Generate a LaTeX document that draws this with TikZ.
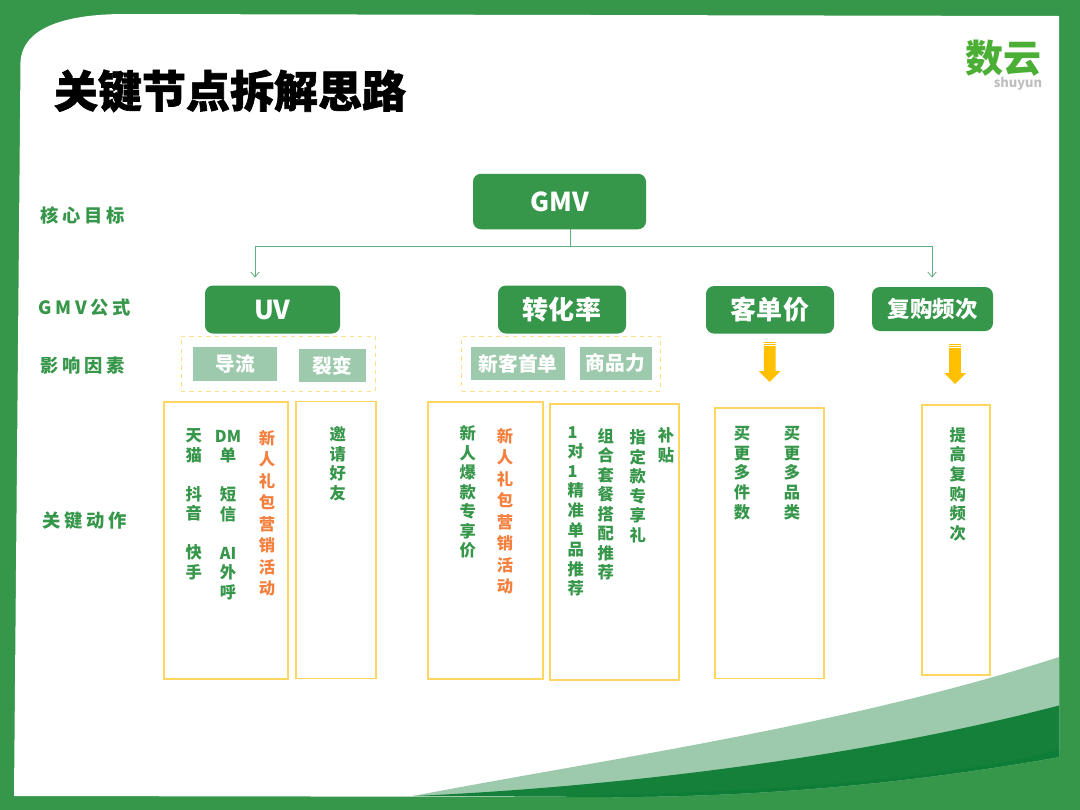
\documentclass[tikz,border=0pt]{standalone}
\usepackage{fontspec}
\setmainfont{Noto Sans CJK SC}
\newfontfamily\spacedfont[LetterSpace=20]{Noto Sans CJK SC}
\newfontfamily\titlefont[BoldFeatures={FakeBold=1.5}]{Noto Sans CJK SC}
\usetikzlibrary{positioning,arrows.meta}
\definecolor{mainGreen}{HTML}{36964A}
\definecolor{paleGreen}{HTML}{9DCAAC}
\definecolor{deepGreen}{HTML}{14803A}
\definecolor{darkGreen}{HTML}{0E7D38}
\definecolor{logoGreen}{HTML}{4CAF35}
\definecolor{lineGreen}{HTML}{5FB07E}
\definecolor{boxYellow}{HTML}{FFD75F}
\definecolor{dashYellow}{HTML}{FFE08A}
\definecolor{arrowYellow}{HTML}{FFC000}
\definecolor{actOrange}{HTML}{F4803D}

\begin{document}
\begin{tikzpicture}[
      x=0.025cm,y=-0.025cm,
      every node/.style={inner sep=0pt,outer sep=0pt},
      sized/.style 2 args={minimum width=#1*0.025cm,minimum height=#2*0.025cm},
      kpi/.style={fill=mainGreen,rounded corners=0.2cm,text=white,font=\bfseries\fontsize{18.5}{22}\selectfont},
      factor/.style={fill=paleGreen,text=white,font=\bfseries\fontsize{14}{17}\selectfont},
      group/.style={draw=dashYellow,dashed,line width=0.7pt},
      action/.style={draw=boxYellow,line width=1pt},
      rowlbl/.style={text=mainGreen,font=\spacedfont\bfseries\fontsize{13}{15}\selectfont},
      vtxt/.style={anchor=north,align=center,text=mainGreen,font=\bfseries\fontsize{11.6}{13.9}\selectfont},
      otxt/.style={anchor=north,align=center,text=actOrange,font=\bfseries\fontsize{11.6}{15.3}\selectfont},
      conn/.style={draw=lineGreen,line width=0.55pt},
      down/.style={fill=arrowYellow,draw=none},
    ]
    \useasboundingbox (0,0) rectangle (1080,810);

    % Frame and waves
    \fill[mainGreen] (0,0) rectangle (1080,810);
    \fill[white] (20.5,62) .. controls (22,30) and (60,14) .. (125,14) -- (1059,16) -- (1059,757)
      .. controls (900,785) and (760,796) .. (620,797) -- (14,796) -- cycle;
    \fill[paleGreen] (413,796) .. controls (600,760) and (850,725) .. (1059,657) -- (1059,757)
      .. controls (900,785) and (760,796) .. (620,797) -- cycle;
    \fill[deepGreen] (413,796) .. controls (600,788) and (850,760) .. (1059,705.5) -- (1059,757)
      .. controls (900,785) and (760,796) .. (620,797) -- cycle;
    \fill[darkGreen] (560,797) .. controls (780,790) and (930,782) .. (1059,750) -- (1059,757)
      .. controls (900,785) and (760,796) .. (620,797) -- cycle;

    % Title and logo
    \node[font=\titlefont\bfseries\fontsize{31.3}{36}\selectfont] (title) at (230,91) {关键节点拆解思路};
    \node[text=logoGreen,text height=20pt,text depth=0pt,font=\bfseries\fontsize{27}{30}\selectfont] (logo) at (1003.5,58) {数云};
    \node[text=black!25,text height=5pt,text depth=1pt,font=\bfseries\fontsize{9.2}{11}\selectfont] (logosub) at (1018,85) {shuyun};

    % Row labels
    \node[rowlbl] (rowgoal) at (83,215) {核心目标};
    \node[rowlbl] (rowformula) at (84.5,307.5) {GMV公式};
    \node[rowlbl] (rowfactor) at (83,365.5) {影响因素};
    \node[rowlbl] (rowaction) at (85,520.5) {关键动作};

    % Goal and formula
    \node[kpi,sized={173}{55.5}] (gmv) at (559.5,201.5) {GMV};
    \node[kpi,sized={135}{48}] (uv) at (272.5,309.5) {UV};
    \node[kpi,sized={128}{48}] (rate) at (562,309.5) {转化率};
    \node[kpi,sized={128}{47.5}] (price) at (770,309.8) {客单价};
    \node[kpi,sized={121}{44},font=\bfseries\fontsize{16}{19}\selectfont] (freq) at (932.5,309) {复购频次};

    % Connector
    \coordinate (hub) at (570.5,246.5);
    \coordinate (uvtip) at (255,277.5);
    \coordinate (freqtip) at (932,277.5);
    \draw[conn] (gmv.south -| hub) -- (hub);
    \draw[conn,-{Straight Barb[length=3.5pt,width=6pt]}] (hub) -| (uvtip);
    \draw[conn,-{Straight Barb[length=3.5pt,width=6pt]}] (hub) -| (freqtip);

    % Factors
    \node[group,sized={194}{55}] (uvgroup) at (278,363.5) {};
    \node[group,sized={198.5}{55}] (rategroup) at (561.2,363.5) {};
    \node[factor,sized={84}{34}] (traffic) at (235,364) {导流};
    \node[factor,sized={67}{33}] (fission) at (332.5,365.5) {裂变};
    \node[factor,sized={94}{33}] (firstorder) at (518,363.5) {新客首单};
    \node[factor,sized={72}{33}] (goods) at (615.5,363.5) {商品力};

    % Yellow arrows
    \foreach \ax/\ay in {769.7/342,955/344}{
      \fill[down] (\ax-5.8,\ay) -- (\ax+5.8,\ay) -- (\ax+5.8,\ay+29) -- (\ax+11,\ay+29)
        -- (\ax,\ay+40) -- (\ax-11,\ay+29) -- (\ax-5.8,\ay+29) -- cycle;
      \draw[white,line width=0.4pt] (\ax-5.8,\ay+1.6) -- (\ax+5.8,\ay+1.6);
      \draw[white,line width=0.4pt] (\ax-5.8,\ay+3.6) -- (\ax+5.8,\ay+3.6);
    }

    % Action boxes
    \node[action,sized={124}{276.7}] (boxa) at (226,540.5) {};
    \node[action,sized={80}{276.5}] (boxb) at (336,540) {};
    \node[action,sized={115}{276.7}] (boxc) at (485.5,540.5) {};
    \node[action,sized={129}{276.3}] (boxd) at (614.5,542) {};
    \node[action,sized={109}{270.5}] (boxe) at (769.5,543.2) {};
    \node[action,sized={68}{270}] (boxf) at (956,540) {};

    % Action texts
    \node[vtxt] (shops) at (193.7,428.5) {天\\猫\\~\\抖\\音\\~\\快\\手};
    \node[vtxt] (direct) at (228,430) {DM\\单\\~\\短\\信\\~\\AI\\外\\呼};
    \node[otxt] (giftone) at (267,430) {新\\人\\礼\\包\\营\\销\\活\\动};
    \node[vtxt] (invite) at (337.7,426.5) {邀\\请\\好\\友};
    \node[vtxt] (hot) at (467.7,425.5) {新\\人\\爆\\款\\专\\享\\价};
    \node[otxt] (gifttwo) at (505,428) {新\\人\\礼\\包\\营\\销\\活\\动};
    \node[vtxt,align=left] (single) at (575.7,426.5) {1\\对\\1\\精\\准\\单\\品\\推\\荐};
    \node[vtxt] (combo) at (605.7,428) {组\\合\\套\\餐\\搭\\配\\推\\荐};
    \node[vtxt] (bonus) at (637.7,429.5) {指\\定\\款\\专\\享\\礼};
    \node[vtxt] (subsidy) at (666,427.5) {补\\贴};
    \node[vtxt] (pieces) at (742,426.5) {买\\更\\多\\件\\数};
    \node[vtxt] (kinds) at (792,426.5) {买\\更\\多\\品\\类};
    \node[vtxt] (repeat) at (957.7,427.5) {提\\高\\复\\购\\频\\次};
  \end{tikzpicture}
\end{document}
